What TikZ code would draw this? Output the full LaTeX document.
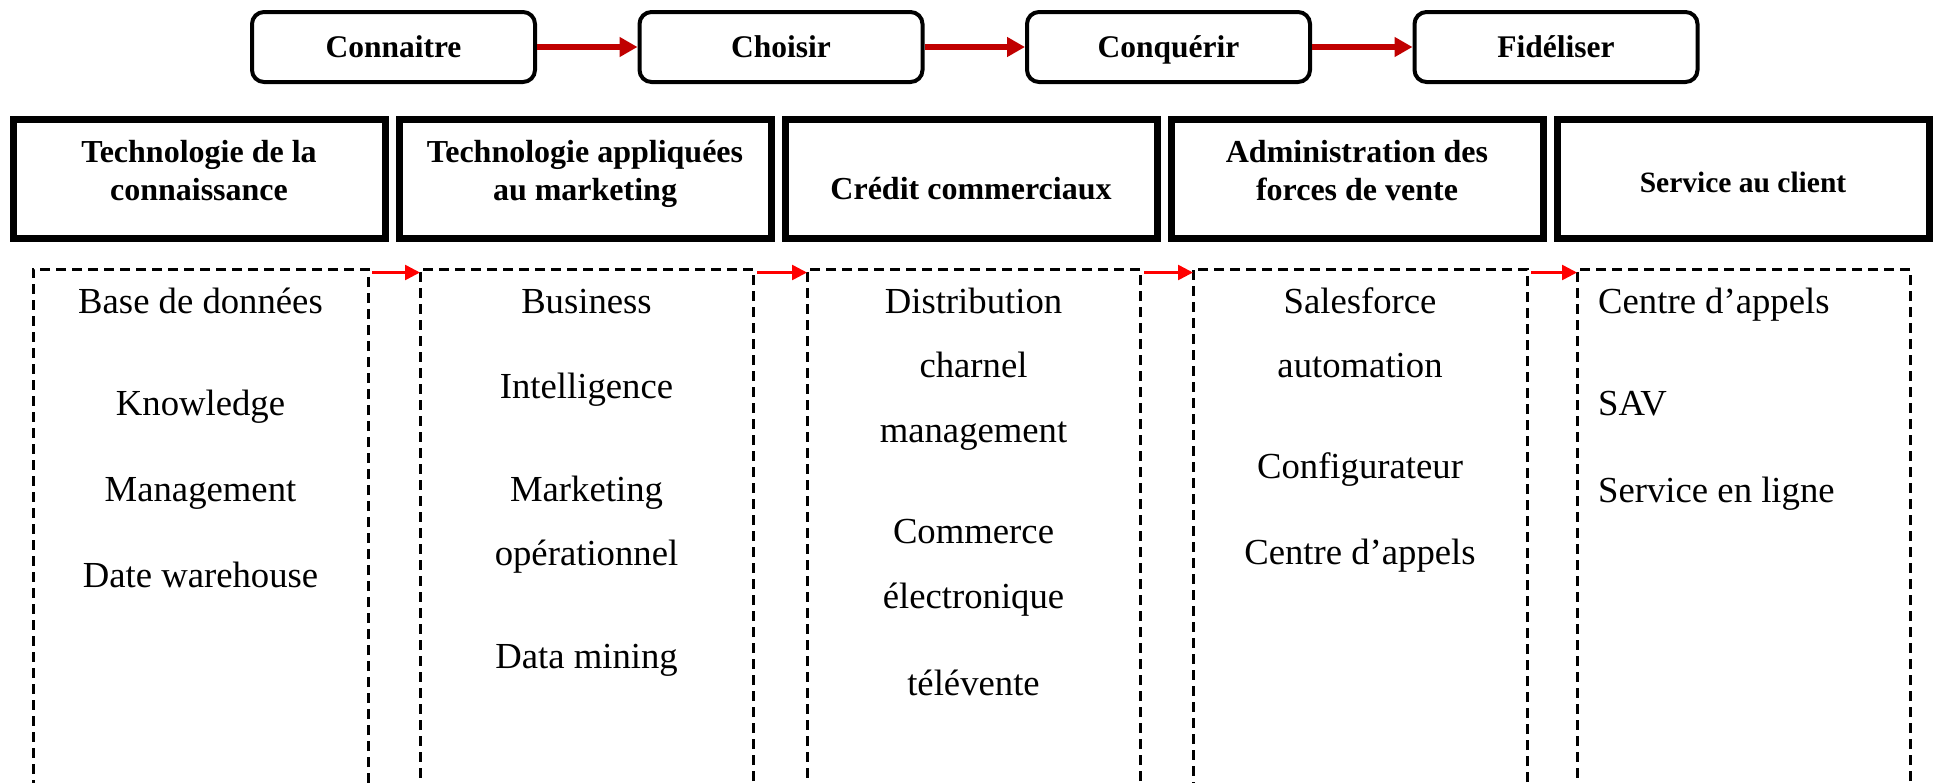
\documentclass[tikz,border=0pt]{standalone}
\usepackage{fontspec}
\setmainfont{Liberation Serif}
\usetikzlibrary{arrows.meta}
\definecolor{stepred}{HTML}{C00000}
\definecolor{flowred}{HTML}{FF0000}

\begin{document}
\begin{tikzpicture}[x=1pt,y=-1pt,
  stage/.style={draw=black, line width=4pt, rounded corners=12pt,
    minimum width=283pt, minimum height=70pt, inner sep=0pt,
    font=\fontsize{31.5}{38}\selectfont\bfseries, text height=22pt, text depth=1pt},
  stagearrow/.style={draw=stepred, line width=6pt,
    -{Triangle[length=18pt,width=19pt]}},
  headbox/.style={draw=black, line width=7pt, minimum width=372pt,
    minimum height=119pt, inner sep=0pt, outer sep=0pt},
  headtext/.style={anchor=base, inner sep=0pt,
    font=\fontsize{32}{38}\selectfont\bfseries},
  colbox/.style={draw=black, line width=3pt, dash pattern=on 10pt off 6pt,
    minimum height=531pt, inner sep=0pt, outer sep=0pt},
  item/.style={anchor=base, inner sep=0pt, font=\fontsize{36.7}{44}\selectfont},
  itemleft/.style={item, anchor=base west},
  flow/.style={draw=flowred, line width=2.5pt, shorten <=4pt,
    -{Triangle[length=15pt,width=15pt]}}
]
\useasboundingbox (0,0) rectangle (1935,782);

% Stages of the customer relationship
\node[stage] (k1) at (393.5,47) {Connaitre};
\node[stage] (k2) at (781,47) {Choisir};
\node[stage] (k3) at (1168.5,47) {Conquérir};
\node[stage] (k4) at (1556,47) {Fidéliser};
\draw[stagearrow] (k1.east) -- (k2.west);
\draw[stagearrow] (k2.east) -- (k3.west);
\draw[stagearrow] (k3.east) -- (k4.west);

% Technology families
\node[headbox] (h1) at (199,179) {};
\node[headbox] (h2) at (585,179) {};
\node[headbox] (h3) at (971,179) {};
\node[headbox] (h4) at (1357,179) {};
\node[headbox] (h5) at (1743,179) {};
\node[headtext] (h1t) at (199,162) {\begin{tabular}[t]{@{}c@{}}Technologie de la\\connaissance\end{tabular}};
\node[headtext] (h2t) at (585,162) {\begin{tabular}[t]{@{}c@{}}Technologie appliquées\\au marketing\end{tabular}};
\node[headtext] (h3t) at (971,199) {Crédit commerciaux};
\node[headtext] (h4t) at (1357,162) {\begin{tabular}[t]{@{}c@{}}Administration des\\forces de vente\end{tabular}};
\node[headtext, font=\fontsize{29.5}{36}\selectfont\bfseries] (h5t) at (1743,192) {Service au client};

% Tool columns
\node[colbox, minimum width=335pt] (c1) at (200.5,534.5) {};
\node[colbox, minimum width=333pt] (c2) at (586.5,534.5) {};
\node[colbox, minimum width=333pt] (c3) at (973.5,534.5) {};
\node[colbox, minimum width=334pt] (c4) at (1360,534.5) {};
\node[colbox, minimum width=333pt] (c5) at (1743.5,534.5) {};
\draw[flow] ([yshift=-3.5pt]c1.north east) -- ([yshift=-3.5pt]c2.north west);
\draw[flow] ([yshift=-3.5pt]c2.north east) -- ([yshift=-3.5pt]c3.north west);
\draw[flow] ([yshift=-3.5pt]c3.north east) -- ([yshift=-3.5pt]c4.north west);
\draw[flow] ([yshift=-3.5pt]c4.north east) -- ([yshift=-3.5pt]c5.north west);

\node[item] (a1) at (200.5,313) {Base de données};
\node[item] (a2) at (200.5,415) {Knowledge};
\node[item] (a3) at (200.5,501) {Management};
\node[item] (a4) at (200.5,587) {Date warehouse};

\node[item] (b1) at (586.5,313) {Business};
\node[item] (b2) at (586.5,398) {Intelligence};
\node[item] (b3) at (586.5,501) {Marketing};
\node[item] (b4) at (586.5,565) {opérationnel};
\node[item] (b5) at (586.5,668) {Data mining};

\node[item] (d1) at (973.5,313) {Distribution};
\node[item] (d2) at (973.5,377) {charnel};
\node[item] (d3) at (973.5,442) {management};
\node[item] (d4) at (973.5,543) {Commerce};
\node[item] (d5) at (973.5,608) {électronique};
\node[item] (d6) at (973.5,695) {télévente};

\node[item] (e1) at (1360,313) {Salesforce};
\node[item] (e2) at (1360,377) {automation};
\node[item] (e3) at (1360,478) {Configurateur};
\node[item] (e4) at (1360,564) {Centre d’appels};

\node[itemleft] (f1) at (1598,313) {Centre d’appels};
\node[itemleft] (f2) at (1598,415) {SAV};
\node[itemleft] (f3) at (1598,502) {Service en ligne};
\end{tikzpicture}
\end{document}
